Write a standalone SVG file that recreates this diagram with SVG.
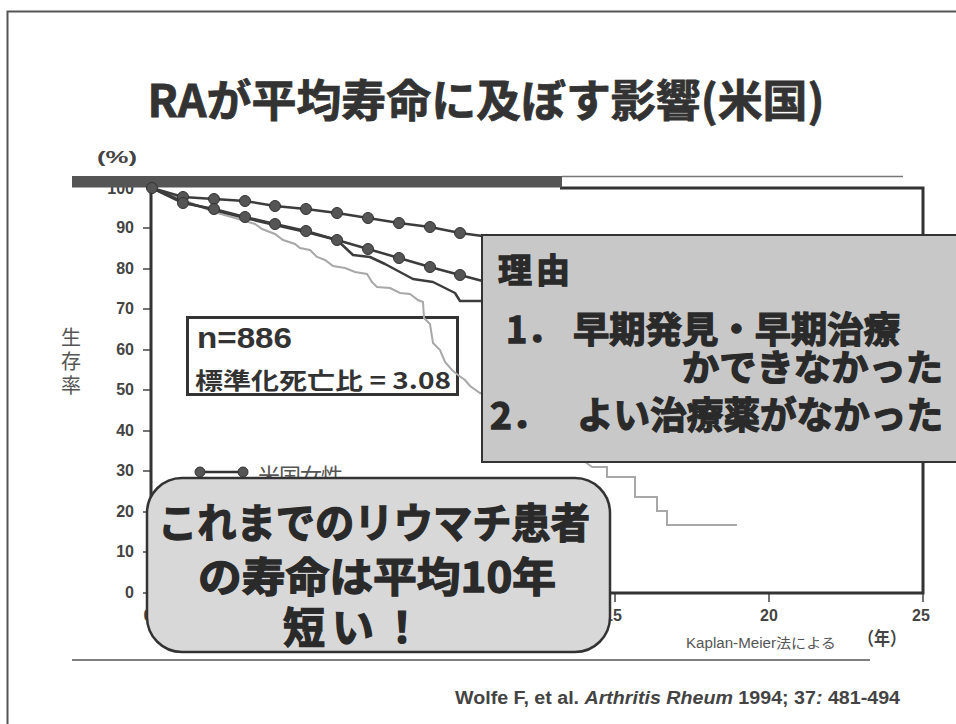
<svg xmlns="http://www.w3.org/2000/svg" width="956" height="724" viewBox="0 0 956 724">
<style>
.jp{font-family:"Noto Sans CJK JP","Noto Sans CJK SC",sans-serif;font-weight:bold}
.lat{font-family:"Liberation Sans",Arial,sans-serif;font-weight:bold}
.num{font-family:"Liberation Sans",Arial,sans-serif;font-weight:bold;fill:#444;font-size:16px}
.axis{stroke:#333;stroke-width:3;fill:none}
.tick{stroke:#444;stroke-width:1.5}
.curve{stroke:#3c3c3c;stroke-width:2.5;fill:none;stroke-linejoin:round}
.gray{stroke:#a8a8a8;stroke-width:2;fill:none}
.dot{fill:#555;stroke:#333;stroke-width:1}
.big{fill:#2a2a2a;stroke:#2a2a2a;stroke-width:1.3}
</style>
<rect x="0" y="0" width="956" height="724" fill="#ffffff"/>
<rect x="7.5" y="11.5" width="965" height="730" fill="none" stroke="#555" stroke-width="2"/>

<g id="title">
<text class="jp" x="486" y="117" font-size="44" fill="#333" stroke="#333" stroke-width="0.8" text-anchor="middle" textLength="677" lengthAdjust="spacingAndGlyphs">RAが平均寿命に及ぼす影響(米国)</text>
</g>

<g id="y-axis-labels">
<text class="num" x="97" y="163" textLength="40" lengthAdjust="spacingAndGlyphs" font-size="16">(%)</text>
<g text-anchor="end">
<text class="num" x="134" y="194">100</text>
<text class="num" x="134" y="233">90</text>
<text class="num" x="134" y="274">80</text>
<text class="num" x="134" y="314">70</text>
<text class="num" x="134" y="355">60</text>
<text class="num" x="134" y="395">50</text>
<text class="num" x="134" y="436">40</text>
<text class="num" x="134" y="476">30</text>
<text class="num" x="134" y="517">20</text>
<text class="num" x="134" y="557">10</text>
<text class="num" x="134" y="598">0</text>
</g>
<g class="tick">
<line x1="143" y1="228" x2="151" y2="228"/>
<line x1="143" y1="269" x2="151" y2="269"/>
<line x1="143" y1="309" x2="151" y2="309"/>
<line x1="143" y1="350" x2="151" y2="350"/>
<line x1="143" y1="390" x2="151" y2="390"/>
<line x1="143" y1="431" x2="151" y2="431"/>
<line x1="143" y1="471" x2="151" y2="471"/>
<line x1="143" y1="512" x2="151" y2="512"/>
<line x1="143" y1="552" x2="151" y2="552"/>
<line x1="143" y1="593" x2="151" y2="593"/>
</g>
<g font-family="Noto Sans CJK JP,Noto Sans CJK SC,sans-serif" font-size="20" fill="#555" text-anchor="middle">
<text x="71" y="345">生</text>
<text x="71" y="369">存</text>
<text x="71" y="393">率</text>
</g>
</g>

<g id="x-axis-labels">
<text class="num" x="148" y="621" text-anchor="middle">0</text>
<text class="num" x="613" y="621" text-anchor="middle">15</text>
<text class="num" x="769" y="621" text-anchor="middle">20</text>
<text class="num" x="921" y="621" text-anchor="middle">25</text>
<g class="tick">
<line x1="615" y1="593" x2="615" y2="602"/>
<line x1="769" y1="593" x2="769" y2="602"/>
<line x1="923" y1="593" x2="923" y2="602"/>
</g>
<text x="686" y="648" font-family="Liberation Sans,Noto Sans CJK JP,sans-serif" font-size="14" fill="#555" textLength="150" lengthAdjust="spacingAndGlyphs">Kaplan-Meier法による</text>
<text class="jp" x="858" y="645" font-size="18" fill="#444" textLength="48" lengthAdjust="spacingAndGlyphs">（年）</text>
</g>

<g id="plot-frame">
<path class="axis" d="M151,188 V593 H923 V188 H560"/>
<line x1="562" y1="176.5" x2="903" y2="176.5" stroke="#777" stroke-width="1.5"/>
<rect x="72" y="176" width="490" height="11.5" fill="#555"/>
</g>

<g id="stats-box">
<rect x="187.5" y="317.5" width="270" height="77" fill="#fff" stroke="#333" stroke-width="3"/>
<text class="lat" x="197" y="348" font-size="30" fill="#333" textLength="95" lengthAdjust="spacingAndGlyphs">n=886</text>
<text class="jp" x="195" y="389" font-size="23" fill="#333" textLength="256" lengthAdjust="spacingAndGlyphs">標準化死亡比 = 3.08</text>
</g>

<g id="connectors">
<path class="gray" d="M152,188 L168,194 L183,200 L199,206 L214,212 L228,216 L245,221 L255,224 L262,229 L275,234 L283,240 L295,244 L300,248 L310,250 L317,257 L325,260 L333,266 L345,268 L355,272 L367,274 L372,282 L377,287 L390,288 L400,293 L410,294 L418,300 L423,302 L424,318 L430,324 L433,343 L440,350 L445,362 L452,370 L458,375 L465,380 L470,386 L480,393 L500,400 L520,415 L540,430 L560,445 L580,458 L592,467 L607,467 L607,477 L635,477 L635,497 L657,497 L657,511 L667,511 L667,525 L737,525"/>
<polyline class="curve" points="152,188 170,196 183,202 214,210 245,218 275,225 306,232 337,240 353,255 370,257 385,264 413,279 433,282 455,293 460,301 490,301"/>
<polyline class="curve" points="152,188 183,203 214,209 245,217 275,224 306,231 337,240 368,249 399,258 430,267 460,275 490,283"/>
<polyline class="curve" points="152,188 183,197 214,199 245,201 275,206 306,209 337,213 368,218 399,223 430,227 460,233 490,237"/>
<g class="dot">
<circle cx="152" cy="188" r="5.5"/>
<circle cx="183" cy="197" r="5.5"/><circle cx="214" cy="199" r="5.5"/><circle cx="245" cy="201" r="5.5"/><circle cx="275" cy="206" r="5.5"/><circle cx="306" cy="209" r="5.5"/><circle cx="337" cy="213" r="5.5"/><circle cx="368" cy="218" r="5.5"/><circle cx="399" cy="223" r="5.5"/><circle cx="430" cy="227" r="5.5"/><circle cx="460" cy="233" r="5.5"/>
<circle cx="183" cy="203" r="5.5"/><circle cx="214" cy="209" r="5.5"/><circle cx="245" cy="217" r="5.5"/><circle cx="275" cy="224" r="5.5"/><circle cx="306" cy="231" r="5.5"/><circle cx="337" cy="240" r="5.5"/><circle cx="368" cy="249" r="5.5"/><circle cx="399" cy="258" r="5.5"/><circle cx="430" cy="267" r="5.5"/><circle cx="460" cy="275" r="5.5"/>
</g>
</g>

<g id="legend">
<line x1="200" y1="472" x2="243" y2="472" stroke="#333" stroke-width="2.5"/>
<circle class="dot" cx="200" cy="472" r="5"/>
<circle class="dot" cx="243" cy="472" r="5"/>
<text x="258" y="484" font-family="Noto Sans CJK JP,Noto Sans CJK SC,sans-serif" font-size="22" fill="#555" textLength="85">米国女性</text>
</g>

<g id="reason-box">
<rect x="482" y="235" width="480" height="227" fill="#c8c8c8" stroke="#333" stroke-width="2"/>
<text class="jp big" x="498" y="283" font-size="34" textLength="72">理由</text>
<text class="jp big" font-size="36" y="343"><tspan x="506">1．</tspan><tspan x="573" textLength="327" lengthAdjust="spacingAndGlyphs">早期発見・早期治療</tspan></text>
<text class="jp big" x="682" y="381" font-size="36" textLength="261" lengthAdjust="spacingAndGlyphs">かできなかった</text>
<text class="jp big" font-size="37" y="429"><tspan x="490">2．</tspan><tspan x="577" textLength="366" lengthAdjust="spacingAndGlyphs">よい治療薬がなかった</tspan></text>
</g>

<g id="callout">
<rect x="147" y="478" width="463" height="174" rx="35" ry="35" fill="#d8d8d8" stroke="#333" stroke-width="2.5"/>
<text class="jp big" x="158" y="538" font-size="41" textLength="432" lengthAdjust="spacingAndGlyphs">これまでのリウマチ患者</text>
<text class="jp big" x="198" y="592" font-size="41" textLength="358" lengthAdjust="spacingAndGlyphs">の寿命は平均10年</text>
<text class="jp big" x="283" y="643" font-size="42" textLength="140">短い！</text>
</g>

<g id="footer">
<line x1="72" y1="660" x2="870" y2="660" stroke="#555" stroke-width="1.5"/>
<text class="lat" x="455" y="704" font-size="18" fill="#444" textLength="445" lengthAdjust="spacingAndGlyphs">Wolfe F, et al. <tspan font-style="italic">Arthritis Rheum</tspan> 1994; 37<tspan font-style="italic">:</tspan> 481-494</text>
</g>
</svg>
